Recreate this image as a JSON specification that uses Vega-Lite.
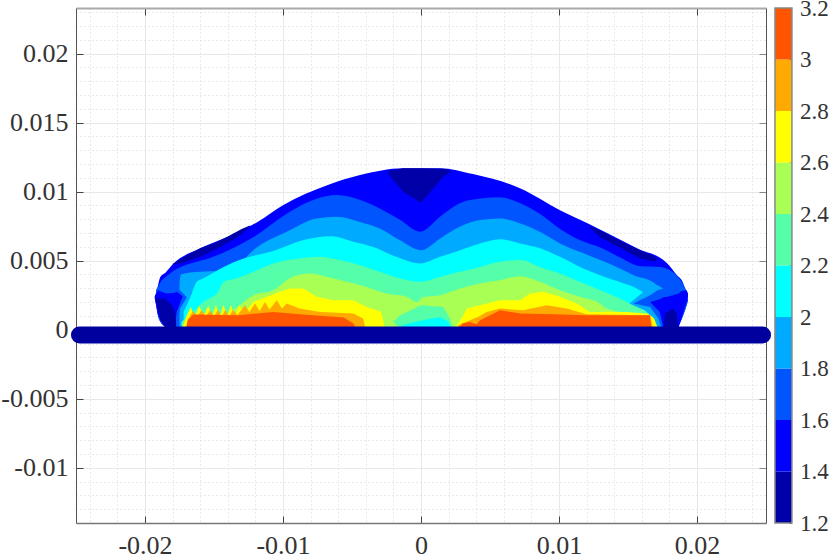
{"$schema":"https://vega.github.io/schema/vega-lite/v6.json","background":"white","padding":{"left":0,"top":-3,"right":0,"bottom":8},"width":690,"height":515,"config":{"view":{"stroke":null},"axis":{"title":null}},"datasets":{"cb":[{"a0":0.02565,"a1":0.02688,"lo":1.2,"hi":1.4,"l":"1.2"},{"a0":0.02565,"a1":0.02688,"lo":1.4,"hi":1.6,"l":"1.4"},{"a0":0.02565,"a1":0.02688,"lo":1.6,"hi":1.8,"l":"1.6"},{"a0":0.02565,"a1":0.02688,"lo":1.8,"hi":2.0,"l":"1.8"},{"a0":0.02565,"a1":0.02688,"lo":2.0,"hi":2.2,"l":"2.0"},{"a0":0.02565,"a1":0.02688,"lo":2.2,"hi":2.4,"l":"2.2"},{"a0":0.02565,"a1":0.02688,"lo":2.4,"hi":2.6,"l":"2.4"},{"a0":0.02565,"a1":0.02688,"lo":2.6,"hi":2.8,"l":"2.6"},{"a0":0.02565,"a1":0.02688,"lo":2.8,"hi":3.0,"l":"2.8"},{"a0":0.02565,"a1":0.02688,"lo":3.0,"hi":3.2,"l":"3.0"}],
"frame":[{"a0":0.02565,"a1":0.02688,"lo":1.2,"hi":3.2}],
"bar":[{"x":-0.02475,"y":-0.00038},{"x":0.02475,"y":-0.00038}],
"base":[
{"r":"a","l":"1.4","x":-0.01928,"y":0.00236,"b":0.00236},{"r":"a","l":"1.4","x":-0.01906,"y":0.0032,"b":0.00105},{"r":"a","l":"1.4","x":-0.0189,"y":0.0038,"b":0.0006},{"r":"a","l":"1.4","x":-0.0185,"y":0.00415,"b":0.0002},{"r":"a","l":"1.4","x":-0.01797,"y":0.00475,"b":0},{"r":"a","l":"1.4","x":-0.016,"y":0.0059,"b":0},{"r":"a","l":"1.4","x":-0.01457,"y":0.00649,"b":0},{"r":"a","l":"1.4","x":-0.01188,"y":0.00779,"b":0},{"r":"a","l":"1.4","x":-0.01,"y":0.00902,"b":0},{"r":"a","l":"1.4","x":-0.0068,"y":0.01047,"b":0},{"r":"a","l":"1.4","x":-0.00442,"y":0.0112,"b":0},{"r":"a","l":"1.4","x":-0.0013,"y":0.0117,"b":0},{"r":"a","l":"1.4","x":0.00138,"y":0.0117,"b":0},{"r":"a","l":"1.4","x":0.00377,"y":0.01127,"b":0},{"r":"a","l":"1.4","x":0.00717,"y":0.01025,"b":0},{"r":"a","l":"1.4","x":0.01007,"y":0.00866,"b":0},{"r":"a","l":"1.4","x":0.01203,"y":0.00772,"b":0},{"r":"a","l":"1.4","x":0.01565,"y":0.0059,"b":0},{"r":"a","l":"1.4","x":0.01783,"y":0.00482,"b":0},{"r":"a","l":"1.4","x":0.0185,"y":0.004,"b":0.0001},{"r":"a","l":"1.4","x":0.019,"y":0.00337,"b":0.00105},{"r":"a","l":"1.4","x":0.01935,"y":0.00214,"b":0.00214},
{"r":"b","l":"1.6","x":-0.0192,"y":0.0029,"b":0.0028},{"r":"b","l":"1.6","x":-0.01906,"y":0.0031,"b":0.00105},{"r":"b","l":"1.6","x":-0.0189,"y":0.0034,"b":0.0006},{"r":"b","l":"1.6","x":-0.0184,"y":0.0039,"b":0.0002},{"r":"b","l":"1.6","x":-0.01795,"y":0.00425,"b":0},{"r":"b","l":"1.6","x":-0.017,"y":0.0047,"b":0},{"r":"b","l":"1.6","x":-0.016,"y":0.005,"b":0},{"r":"b","l":"1.6","x":-0.0153,"y":0.0052,"b":0},{"r":"b","l":"1.6","x":-0.0145,"y":0.0055,"b":0},{"r":"b","l":"1.6","x":-0.0121,"y":0.00673,"b":0},{"r":"b","l":"1.6","x":-0.0097,"y":0.00842,"b":0},{"r":"b","l":"1.6","x":-0.0075,"y":0.0095,"b":0},{"r":"b","l":"1.6","x":-0.0061,"y":0.00975,"b":0},{"r":"b","l":"1.6","x":-0.0044,"y":0.00939,"b":0},{"r":"b","l":"1.6","x":-0.003,"y":0.00878,"b":0},{"r":"b","l":"1.6","x":-0.0015,"y":0.00794,"b":0},{"r":"b","l":"1.6","x":-0.00007,"y":0.0071,"b":0},{"r":"b","l":"1.6","x":0.0014,"y":0.0082,"b":0},{"r":"b","l":"1.6","x":0.0028,"y":0.00915,"b":0},{"r":"b","l":"1.6","x":0.0043,"y":0.0095,"b":0},{"r":"b","l":"1.6","x":0.0057,"y":0.0096,"b":0},{"r":"b","l":"1.6","x":0.0072,"y":0.00915,"b":0},{"r":"b","l":"1.6","x":0.0086,"y":0.0084,"b":0},{"r":"b","l":"1.6","x":0.01007,"y":0.0073,"b":0},{"r":"b","l":"1.6","x":0.0115,"y":0.0065,"b":0},{"r":"b","l":"1.6","x":0.013,"y":0.00595,"b":0},{"r":"b","l":"1.6","x":0.0144,"y":0.00525,"b":0},{"r":"b","l":"1.6","x":0.0159,"y":0.0046,"b":0},{"r":"b","l":"1.6","x":0.0173,"y":0.00455,"b":0},{"r":"b","l":"1.6","x":0.01805,"y":0.0043,"b":0},{"r":"b","l":"1.6","x":0.0186,"y":0.00385,"b":0.00025},{"r":"b","l":"1.6","x":0.019,"y":0.0033,"b":0.00105},{"r":"b","l":"1.6","x":0.0193,"y":0.0027,"b":0.0019},
{"r":"c","l":"1.8","x":-0.0175,"y":0.0032,"b":0},{"r":"c","l":"1.8","x":-0.0174,"y":0.004,"b":0},{"r":"c","l":"1.8","x":-0.016,"y":0.0042,"b":0},{"r":"c","l":"1.8","x":-0.0146,"y":0.00425,"b":0},{"r":"c","l":"1.8","x":-0.01384,"y":0.00445,"b":0},{"r":"c","l":"1.8","x":-0.0131,"y":0.00485,"b":0},{"r":"c","l":"1.8","x":-0.01215,"y":0.00576,"b":0},{"r":"c","l":"1.8","x":-0.00974,"y":0.00709,"b":0},{"r":"c","l":"1.8","x":-0.00756,"y":0.00806,"b":0},{"r":"c","l":"1.8","x":-0.0061,"y":0.00818,"b":0},{"r":"c","l":"1.8","x":-0.00444,"y":0.0078,"b":0},{"r":"c","l":"1.8","x":-0.003,"y":0.00733,"b":0},{"r":"c","l":"1.8","x":-0.00155,"y":0.00649,"b":0},{"r":"c","l":"1.8","x":0,"y":0.00576,"b":0},{"r":"c","l":"1.8","x":0.0014,"y":0.00661,"b":0},{"r":"c","l":"1.8","x":0.0028,"y":0.00745,"b":0},{"r":"c","l":"1.8","x":0.0043,"y":0.00794,"b":0},{"r":"c","l":"1.8","x":0.0057,"y":0.00806,"b":0},{"r":"c","l":"1.8","x":0.0072,"y":0.0077,"b":0},{"r":"c","l":"1.8","x":0.0086,"y":0.00709,"b":0},{"r":"c","l":"1.8","x":0.01007,"y":0.00625,"b":0},{"r":"c","l":"1.8","x":0.0115,"y":0.00564,"b":0},{"r":"c","l":"1.8","x":0.013,"y":0.00504,"b":0},{"r":"c","l":"1.8","x":0.0144,"y":0.00443,"b":0},{"r":"c","l":"1.8","x":0.0154,"y":0.00395,"b":0},{"r":"c","l":"1.8","x":0.0168,"y":0.00345,"b":0},{"r":"c","l":"1.8","x":0.0175,"y":0.00286,"b":0},
{"r":"d","l":"2.0","x":-0.0172,"y":0.0013,"b":0},{"r":"d","l":"2.0","x":-0.0167,"y":0.00238,"b":0},{"r":"d","l":"2.0","x":-0.01625,"y":0.00347,"b":0},{"r":"d","l":"2.0","x":-0.0158,"y":0.0037,"b":0},{"r":"d","l":"2.0","x":-0.0143,"y":0.00455,"b":0},{"r":"d","l":"2.0","x":-0.01285,"y":0.00515,"b":0},{"r":"d","l":"2.0","x":-0.0107,"y":0.0057,"b":0},{"r":"d","l":"2.0","x":-0.0085,"y":0.00649,"b":0},{"r":"d","l":"2.0","x":-0.0065,"y":0.00677,"b":0},{"r":"d","l":"2.0","x":-0.0049,"y":0.00637,"b":0},{"r":"d","l":"2.0","x":-0.0035,"y":0.006,"b":0},{"r":"d","l":"2.0","x":-0.0018,"y":0.00528,"b":0},{"r":"d","l":"2.0","x":-0.00007,"y":0.0048,"b":0},{"r":"d","l":"2.0","x":0.00138,"y":0.00528,"b":0},{"r":"d","l":"2.0","x":0.00283,"y":0.00576,"b":0},{"r":"d","l":"2.0","x":0.00428,"y":0.00625,"b":0},{"r":"d","l":"2.0","x":0.00572,"y":0.00656,"b":0},{"r":"d","l":"2.0","x":0.00717,"y":0.00625,"b":0},{"r":"d","l":"2.0","x":0.00862,"y":0.0059,"b":0},{"r":"d","l":"2.0","x":0.01007,"y":0.00528,"b":0},{"r":"d","l":"2.0","x":0.01152,"y":0.00455,"b":0},{"r":"d","l":"2.0","x":0.01297,"y":0.00395,"b":0},{"r":"d","l":"2.0","x":0.0144,"y":0.00345,"b":0},{"r":"d","l":"2.0","x":0.0156,"y":0.003,"b":0},{"r":"d","l":"2.0","x":0.0162,"y":0.0026,"b":0},{"r":"d","l":"2.0","x":0.017,"y":0.0015,"b":0},{"r":"d","l":"2.0","x":0.0172,"y":0,"b":0},
{"r":"e","l":"2.2","x":-0.01735,"y":0.00057,"b":0},{"r":"e","l":"2.2","x":-0.0165,"y":0.00129,"b":0},{"r":"e","l":"2.2","x":-0.01577,"y":0.002,"b":0},{"r":"e","l":"2.2","x":-0.0147,"y":0.00274,"b":0},{"r":"e","l":"2.2","x":-0.0143,"y":0.00347,"b":0},{"r":"e","l":"2.2","x":-0.0134,"y":0.00371,"b":0},{"r":"e","l":"2.2","x":-0.01215,"y":0.0042,"b":0},{"r":"e","l":"2.2","x":-0.0107,"y":0.0048,"b":0},{"r":"e","l":"2.2","x":-0.0088,"y":0.00516,"b":0},{"r":"e","l":"2.2","x":-0.0073,"y":0.00528,"b":0},{"r":"e","l":"2.2","x":-0.0059,"y":0.00504,"b":0},{"r":"e","l":"2.2","x":-0.0044,"y":0.00467,"b":0},{"r":"e","l":"2.2","x":-0.003,"y":0.0042,"b":0},{"r":"e","l":"2.2","x":-0.0015,"y":0.00371,"b":0},{"r":"e","l":"2.2","x":-0.00007,"y":0.00347,"b":0},{"r":"e","l":"2.2","x":0.0014,"y":0.00383,"b":0},{"r":"e","l":"2.2","x":0.0028,"y":0.0042,"b":0},{"r":"e","l":"2.2","x":0.0043,"y":0.00455,"b":0},{"r":"e","l":"2.2","x":0.0057,"y":0.00492,"b":0},{"r":"e","l":"2.2","x":0.0072,"y":0.00504,"b":0},{"r":"e","l":"2.2","x":0.0086,"y":0.00455,"b":0},{"r":"e","l":"2.2","x":0.01007,"y":0.00407,"b":0},{"r":"e","l":"2.2","x":0.0115,"y":0.00347,"b":0},{"r":"e","l":"2.2","x":0.013,"y":0.00286,"b":0},{"r":"e","l":"2.2","x":0.0144,"y":0.00226,"b":0},{"r":"e","l":"2.2","x":0.0154,"y":0.00177,"b":0},{"r":"e","l":"2.2","x":0.0166,"y":0.00117,"b":0},{"r":"e","l":"2.2","x":0.017,"y":0,"b":0},
{"r":"f","l":"2.4","x":-0.0148,"y":0.00069,"b":0},{"r":"f","l":"2.4","x":-0.01384,"y":0.00129,"b":0},{"r":"f","l":"2.4","x":-0.01312,"y":0.00178,"b":0},{"r":"f","l":"2.4","x":-0.01215,"y":0.0025,"b":0},{"r":"f","l":"2.4","x":-0.0107,"y":0.00286,"b":0},{"r":"f","l":"2.4","x":-0.00974,"y":0.00359,"b":0},{"r":"f","l":"2.4","x":-0.009,"y":0.00395,"b":0},{"r":"f","l":"2.4","x":-0.00804,"y":0.00407,"b":0},{"r":"f","l":"2.4","x":-0.00684,"y":0.00383,"b":0},{"r":"f","l":"2.4","x":-0.00539,"y":0.00347,"b":0},{"r":"f","l":"2.4","x":-0.00394,"y":0.0031,"b":0},{"r":"f","l":"2.4","x":-0.0025,"y":0.00262,"b":0},{"r":"f","l":"2.4","x":-0.00104,"y":0.00238,"b":0},{"r":"f","l":"2.4","x":-0.0003,"y":0.002,"b":0},{"r":"f","l":"2.4","x":0.00015,"y":0.00235,"b":0},{"r":"f","l":"2.4","x":0.00138,"y":0.0025,"b":0},{"r":"f","l":"2.4","x":0.00283,"y":0.00298,"b":0},{"r":"f","l":"2.4","x":0.00428,"y":0.00335,"b":0},{"r":"f","l":"2.4","x":0.00572,"y":0.00359,"b":0},{"r":"f","l":"2.4","x":0.00717,"y":0.00388,"b":0},{"r":"f","l":"2.4","x":0.00862,"y":0.00347,"b":0},{"r":"f","l":"2.4","x":0.01007,"y":0.00286,"b":0},{"r":"f","l":"2.4","x":0.01152,"y":0.00238,"b":0},{"r":"f","l":"2.4","x":0.01297,"y":0.0019,"b":0},{"r":"f","l":"2.4","x":0.01345,"y":0.00153,"b":0},{"r":"f","l":"2.4","x":0.01587,"y":0.00105,"b":0},{"r":"f","l":"2.4","x":0.01684,"y":0.0008,"b":0},{"r":"f","l":"2.4","x":0.017,"y":0,"b":0}
],
"patch":[
{"r":"g","l":"2.2","x":-0.002,"y":0.0006,"b":0.0006},{"r":"g","l":"2.2","x":-0.0015,"y":0.00105,"b":0},{"r":"g","l":"2.2","x":0,"y":0.00177,"b":0},{"r":"g","l":"2.2","x":0.00162,"y":0.00165,"b":0},{"r":"g","l":"2.2","x":0.0021,"y":0.0008,"b":0},{"r":"g","l":"2.2","x":0.00235,"y":0,"b":0},
{"r":"h","l":"2.0","x":-0.0014,"y":0.0003,"b":0},{"r":"h","l":"2.0","x":-0.0007,"y":0.0005,"b":0},{"r":"h","l":"2.0","x":0.00065,"y":0.0008,"b":0},{"r":"h","l":"2.0","x":0.00138,"y":0.0009,"b":0},{"r":"h","l":"2.0","x":0.00198,"y":0.0006,"b":0},{"r":"h","l":"2.0","x":0.0022,"y":0,"b":0},
{"r":"i","l":"2.6","x":-0.01735,"y":0,"b":0},{"r":"i","l":"2.6","x":-0.01698,"y":0.00105,"b":0},{"r":"i","l":"2.6","x":-0.01669,"y":0.00165,"b":0},{"r":"i","l":"2.6","x":-0.01638,"y":0.00095,"b":0},{"r":"i","l":"2.6","x":-0.01607,"y":0.00175,"b":0},{"r":"i","l":"2.6","x":-0.01578,"y":0.00095,"b":0},{"r":"i","l":"2.6","x":-0.01541,"y":0.00175,"b":0},{"r":"i","l":"2.6","x":-0.01514,"y":0.00095,"b":0},{"r":"i","l":"2.6","x":-0.01486,"y":0.0018,"b":0},{"r":"i","l":"2.6","x":-0.01457,"y":0.00095,"b":0},{"r":"i","l":"2.6","x":-0.01432,"y":0.0018,"b":0},{"r":"i","l":"2.6","x":-0.01403,"y":0.00095,"b":0},{"r":"i","l":"2.6","x":-0.01379,"y":0.0018,"b":0},{"r":"i","l":"2.6","x":-0.01348,"y":0.00095,"b":0},{"r":"i","l":"2.6","x":-0.01317,"y":0.0018,"b":0},{"r":"i","l":"2.6","x":-0.01283,"y":0.0012,"b":0},{"r":"i","l":"2.6","x":-0.01215,"y":0.002,"b":0},{"r":"i","l":"2.6","x":-0.01118,"y":0.00238,"b":0},{"r":"i","l":"2.6","x":-0.0102,"y":0.00274,"b":0},{"r":"i","l":"2.6","x":-0.0095,"y":0.00298,"b":0},{"r":"i","l":"2.6","x":-0.00853,"y":0.00298,"b":0},{"r":"i","l":"2.6","x":-0.00756,"y":0.00238,"b":0},{"r":"i","l":"2.6","x":-0.00635,"y":0.00214,"b":0},{"r":"i","l":"2.6","x":-0.0049,"y":0.00214,"b":0},{"r":"i","l":"2.6","x":-0.00394,"y":0.00165,"b":0},{"r":"i","l":"2.6","x":-0.0032,"y":0.0014,"b":0},{"r":"i","l":"2.6","x":-0.0029,"y":0.0013,"b":0},{"r":"i","l":"2.6","x":-0.0027,"y":0.0005,"b":0},{"r":"i","l":"2.6","x":-0.0026,"y":0,"b":0},
{"r":"j","l":"2.6","x":0.0025,"y":0,"b":0},{"r":"j","l":"2.6","x":0.00258,"y":0.00033,"b":0},{"r":"j","l":"2.6","x":0.00307,"y":0.00105,"b":0},{"r":"j","l":"2.6","x":0.00331,"y":0.00153,"b":0},{"r":"j","l":"2.6","x":0.00428,"y":0.00177,"b":0},{"r":"j","l":"2.6","x":0.00572,"y":0.00214,"b":0},{"r":"j","l":"2.6","x":0.00717,"y":0.00214,"b":0},{"r":"j","l":"2.6","x":0.0079,"y":0.00262,"b":0},{"r":"j","l":"2.6","x":0.00886,"y":0.00274,"b":0},{"r":"j","l":"2.6","x":0.01007,"y":0.00238,"b":0},{"r":"j","l":"2.6","x":0.01128,"y":0.0019,"b":0},{"r":"j","l":"2.6","x":0.01225,"y":0.00129,"b":0},{"r":"j","l":"2.6","x":0.01345,"y":0.00129,"b":0},{"r":"j","l":"2.6","x":0.0149,"y":0.00129,"b":0},{"r":"j","l":"2.6","x":0.01635,"y":0.00117,"b":0},{"r":"j","l":"2.6","x":0.01708,"y":0.00081,"b":0},{"r":"j","l":"2.6","x":0.0172,"y":0,"b":0},
{"r":"k","l":"2.8","x":-0.017,"y":0,"b":0},{"r":"k","l":"2.8","x":-0.0169,"y":0.0007,"b":0},{"r":"k","l":"2.8","x":-0.01653,"y":0.00135,"b":0},{"r":"k","l":"2.8","x":-0.01622,"y":0.00095,"b":0},{"r":"k","l":"2.8","x":-0.01592,"y":0.0014,"b":0},{"r":"k","l":"2.8","x":-0.0156,"y":0.00095,"b":0},{"r":"k","l":"2.8","x":-0.01528,"y":0.0014,"b":0},{"r":"k","l":"2.8","x":-0.015,"y":0.00095,"b":0},{"r":"k","l":"2.8","x":-0.01472,"y":0.00145,"b":0},{"r":"k","l":"2.8","x":-0.01445,"y":0.00095,"b":0},{"r":"k","l":"2.8","x":-0.01418,"y":0.00145,"b":0},{"r":"k","l":"2.8","x":-0.0139,"y":0.00095,"b":0},{"r":"k","l":"2.8","x":-0.01362,"y":0.00145,"b":0},{"r":"k","l":"2.8","x":-0.0133,"y":0.00105,"b":0},{"r":"k","l":"2.8","x":-0.01276,"y":0.00178,"b":0},{"r":"k","l":"2.8","x":-0.01244,"y":0.00129,"b":0},{"r":"k","l":"2.8","x":-0.01202,"y":0.0019,"b":0},{"r":"k","l":"2.8","x":-0.0117,"y":0.00136,"b":0},{"r":"k","l":"2.8","x":-0.0113,"y":0.002,"b":0},{"r":"k","l":"2.8","x":-0.01098,"y":0.00146,"b":0},{"r":"k","l":"2.8","x":-0.01045,"y":0.00214,"b":0},{"r":"k","l":"2.8","x":-0.01008,"y":0.00153,"b":0},{"r":"k","l":"2.8","x":-0.00974,"y":0.0019,"b":0},{"r":"k","l":"2.8","x":-0.0088,"y":0.00153,"b":0},{"r":"k","l":"2.8","x":-0.0073,"y":0.00129,"b":0},{"r":"k","l":"2.8","x":-0.0049,"y":0.00117,"b":0},{"r":"k","l":"2.8","x":-0.0042,"y":0.00081,"b":0},{"r":"k","l":"2.8","x":-0.004,"y":0,"b":0},
{"r":"m","l":"2.8","x":0.0026,"y":0,"b":0},{"r":"m","l":"2.8","x":0.0027,"y":0.00033,"b":0},{"r":"m","l":"2.8","x":0.00355,"y":0.00069,"b":0},{"r":"m","l":"2.8","x":0.00415,"y":0.00093,"b":0},{"r":"m","l":"2.8","x":0.00476,"y":0.00129,"b":0},{"r":"m","l":"2.8","x":0.00572,"y":0.00153,"b":0},{"r":"m","l":"2.8","x":0.00741,"y":0.00141,"b":0},{"r":"m","l":"2.8","x":0.0091,"y":0.00177,"b":0},{"r":"m","l":"2.8","x":0.01055,"y":0.00153,"b":0},{"r":"m","l":"2.8","x":0.012,"y":0.00112,"b":0},{"r":"m","l":"2.8","x":0.0166,"y":0.00105,"b":0},{"r":"m","l":"2.8","x":0.01684,"y":0,"b":0},
{"r":"n","l":"3.0","x":-0.01705,"y":0,"b":0},{"r":"n","l":"3.0","x":-0.0169,"y":0.0007,"b":0},{"r":"n","l":"3.0","x":-0.0165,"y":0.0011,"b":0},{"r":"n","l":"3.0","x":-0.0132,"y":0.00105,"b":0},{"r":"n","l":"3.0","x":-0.0107,"y":0.00129,"b":0},{"r":"n","l":"3.0","x":-0.0088,"y":0.00112,"b":0},{"r":"n","l":"3.0","x":-0.0056,"y":0.00088,"b":0},{"r":"n","l":"3.0","x":-0.0049,"y":0.00045,"b":0},{"r":"n","l":"3.0","x":-0.00466,"y":0,"b":0},
{"r":"o","l":"3.0","x":0.00275,"y":0,"b":0},{"r":"o","l":"3.0","x":0.003,"y":0.00045,"b":0},{"r":"o","l":"3.0","x":0.0035,"y":0.00055,"b":0},{"r":"o","l":"3.0","x":0.00403,"y":0.0004,"b":0},{"r":"o","l":"3.0","x":0.00428,"y":0.00069,"b":0},{"r":"o","l":"3.0","x":0.00572,"y":0.00141,"b":0},{"r":"o","l":"3.0","x":0.00717,"y":0.00117,"b":0},{"r":"o","l":"3.0","x":0.0096,"y":0.00112,"b":0},{"r":"o","l":"3.0","x":0.012,"y":0.00105,"b":0},{"r":"o","l":"3.0","x":0.0166,"y":0.00105,"b":0},{"r":"o","l":"3.0","x":0.0167,"y":0,"b":0},
{"r":"p","l":"1.8","x":0.0151,"y":0.0019,"b":0.0019},{"r":"p","l":"1.8","x":0.0162,"y":0.0028,"b":0.00141},{"r":"p","l":"1.8","x":0.0169,"y":0.0032,"b":0.00081},{"r":"p","l":"1.8","x":0.0172,"y":0.0032,"b":0},{"r":"p","l":"1.8","x":0.0175,"y":0.003,"b":0},
{"r":"q","l":"1.6","x":0.0154,"y":0.0019,"b":0.0019},{"r":"q","l":"1.6","x":0.0166,"y":0.0025,"b":0.00165},{"r":"q","l":"1.6","x":0.0172,"y":0.0029,"b":0.00081},{"r":"q","l":"1.6","x":0.01745,"y":0.00295,"b":0},{"r":"q","l":"1.6","x":0.018,"y":0.00295,"b":0},
{"r":"s","l":"1.4","x":0.0166,"y":0.002,"b":0.002},{"r":"s","l":"1.4","x":0.0173,"y":0.0022,"b":0.00129},{"r":"s","l":"1.4","x":0.0176,"y":0.00237,"b":0},{"r":"s","l":"1.4","x":0.0178,"y":0.00237,"b":0},{"r":"s","l":"1.4","x":0.01865,"y":0.0026,"b":0.0001},{"r":"s","l":"1.4","x":0.0189,"y":0.0028,"b":0.0009},{"r":"s","l":"1.4","x":0.01925,"y":0.00286,"b":0.002},{"r":"s","l":"1.4","x":0.01935,"y":0.0026,"b":0.0024},
{"r":"t","l":"1.2","x":0.0176,"y":0.0005,"b":0},{"r":"t","l":"1.2","x":0.0177,"y":0.00117,"b":0},{"r":"t","l":"1.2","x":0.0182,"y":0.00153,"b":0},{"r":"t","l":"1.2","x":0.0185,"y":0.00129,"b":0},{"r":"t","l":"1.2","x":0.01865,"y":0.0002,"b":0},
{"r":"u","l":"1.6","x":-0.01697,"y":0.00233,"b":0.00233},{"r":"u","l":"1.6","x":-0.01746,"y":0.00286,"b":0.00153},{"r":"u","l":"1.6","x":-0.01765,"y":0.0029,"b":0.00069},{"r":"u","l":"1.6","x":-0.01775,"y":0.0029,"b":0},
{"r":"v","l":"1.4","x":-0.01727,"y":0.00243,"b":0.00243},{"r":"v","l":"1.4","x":-0.0177,"y":0.00274,"b":0.00129},{"r":"v","l":"1.4","x":-0.01788,"y":0.00265,"b":0},{"r":"v","l":"1.4","x":-0.01848,"y":0.00262,"b":0.0001},{"r":"v","l":"1.4","x":-0.01906,"y":0.00286,"b":0.00105},{"r":"v","l":"1.4","x":-0.0193,"y":0.0024,"b":0.0023},
{"r":"w","l":"1.2","x":-0.01923,"y":0.0023,"b":0.0023},{"r":"w","l":"1.2","x":-0.0189,"y":0.00226,"b":0.00069},{"r":"w","l":"1.2","x":-0.01855,"y":0.00226,"b":0.0002},{"r":"w","l":"1.2","x":-0.01806,"y":0.00177,"b":0},{"r":"w","l":"1.2","x":-0.01782,"y":0.00129,"b":0},{"r":"w","l":"1.2","x":-0.01775,"y":0.0005,"b":0},
{"r":"x","l":"1.2","x":-0.0024,"y":0.0115,"b":0.0113},{"r":"x","l":"1.2","x":-0.0013,"y":0.0117,"b":0.01},{"r":"x","l":"1.2","x":0,"y":0.0117,"b":0.0092},{"r":"x","l":"1.2","x":0.00162,"y":0.01165,"b":0.01107},{"r":"x","l":"1.2","x":0.00222,"y":0.0115,"b":0.0115},
{"r":"y","l":"1.2","x":-0.018,"y":0.00475,"b":0.0047},{"r":"y","l":"1.2","x":-0.0172,"y":0.00525,"b":0.00485},{"r":"y","l":"1.2","x":-0.016,"y":0.0059,"b":0.0053},{"r":"y","l":"1.2","x":-0.015,"y":0.00625,"b":0.00575},{"r":"y","l":"1.2","x":-0.014,"y":0.00675,"b":0.0063},{"r":"y","l":"1.2","x":-0.013,"y":0.0073,"b":0.0069},{"r":"y","l":"1.2","x":-0.0124,"y":0.00755,"b":0.00745},
{"r":"z","l":"1.2","x":0.01224,"y":0.0075,"b":0.0074},{"r":"z","l":"1.2","x":0.01297,"y":0.0072,"b":0.0067},{"r":"z","l":"1.2","x":0.0144,"y":0.00645,"b":0.00595},{"r":"z","l":"1.2","x":0.01587,"y":0.00575,"b":0.00516},{"r":"z","l":"1.2","x":0.01684,"y":0.00535,"b":0.00495},{"r":"z","l":"1.2","x":0.0171,"y":0.0051,"b":0.005}
]},
"resolve":{"scale":{"y":"independent"},"axis":{"x":"independent","y":"independent"}},
"layer":[
{"data":{"name":"base"},"mark":{"type":"area","interpolate":"monotone"},"encoding":{
"x":{"field":"x","type":"quantitative","scale":{"domain":[-0.025,0.025],"nice":false,"zero":false},"axis":{"orient":"bottom","values":[-0.02,-0.01,0,0.01,0.02],"labelExpr":"''+datum.value","labelFont":"Liberation Serif","labelFontSize":26,"labelColor":"#333333","grid":true,"gridColor":"#e8e8e8","gridWidth":1,"domainColor":"#777777","domainWidth":1.5,"tickSize":-7,"tickColor":"#444444","labelPadding":16,"labelFlush":false,"labelOverlap":false}},
"y":{"field":"y","type":"quantitative","scale":{"domain":[-0.014,0.0233],"nice":false,"zero":false},"axis":{"orient":"left","values":[-0.01,-0.005,0,0.005,0.01,0.015,0.02],"labelExpr":"''+datum.value","labelFont":"Liberation Serif","labelFontSize":26,"labelColor":"#333333","grid":true,"gridColor":"#e8e8e8","gridWidth":1,"domainColor":"#555555","domainWidth":1,"tickSize":-7,"tickColor":"#444444","labelPadding":15,"labelFlush":false,"labelOverlap":false}},
"y2":{"field":"b"},
"detail":{"field":"r"},
"color":{"field":"l","type":"nominal","legend":null,"scale":{"domain":["1.2","1.4","1.6","1.8","2.0","2.2","2.4","2.6","2.8","3.0"],"range":["#0000A8","#0000FF","#0055FF","#00AAFF","#00FFFF","#55FFAA","#AAFF55","#FFFF00","#FFAA00","#FF5500"]}}}},
{"data":{"name":"patch"},"mark":{"type":"area","interpolate":"linear"},"encoding":{
"x":{"field":"x","type":"quantitative","axis":{"orient":"bottom","values":[-0.024,-0.022,-0.018,-0.016,-0.014,-0.012,-0.008,-0.006,-0.004,-0.002,0.002,0.004,0.006,0.008,0.012,0.014,0.016,0.018,0.022,0.024],"labels":false,"ticks":false,"domain":false,"grid":true,"gridColor":"#d4d4d4","gridDash":[1,3],"gridWidth":1}},
"y":{"field":"y","type":"quantitative","scale":{"domain":[-0.014,0.0233],"nice":false,"zero":false},"axis":{"orient":"left","minExtent":0,"values":[-0.013,-0.012,-0.011,-0.009,-0.008,-0.007,-0.006,-0.004,-0.003,-0.002,-0.001,0.001,0.002,0.003,0.004,0.006,0.007,0.008,0.009,0.011,0.012,0.013,0.014,0.016,0.017,0.018,0.019,0.021,0.022,0.023],"labels":false,"ticks":false,"domain":false,"grid":true,"gridColor":"#d4d4d4","gridDash":[1,3],"gridWidth":1}},
"y2":{"field":"b"},
"detail":{"field":"r"},
"color":{"field":"l","type":"nominal","legend":null}}},
{"data":{"name":"bar"},"mark":{"type":"line","strokeWidth":17,"strokeCap":"round","color":"#00009F","clip":false},"encoding":{
"x":{"field":"x","type":"quantitative","axis":{"orient":"top","values":[-0.02,-0.01,0,0.01,0.02],"labels":false,"grid":false,"domainColor":"#aaaaaa","domainWidth":2,"tickSize":-7,"tickColor":"#444444"}},
"y":{"field":"y","type":"quantitative","scale":{"domain":[-0.014,0.0233],"nice":false,"zero":false},"axis":{"orient":"right","minExtent":0,"values":[-0.01,-0.005,0,0.005,0.01,0.015,0.02],"labels":false,"grid":false,"domainColor":"#555555","domainWidth":1,"tickSize":-7,"tickColor":"#888888"}}}},
{"data":{"name":"cb"},"mark":{"type":"rect","clip":false},"encoding":{
"x":{"field":"a0","type":"quantitative","axis":null},
"x2":{"field":"a1"},
"y":{"field":"lo","type":"quantitative","scale":{"domain":[1.2,3.2],"nice":false,"zero":false},"axis":{"orient":"right","offset":25.5,"minExtent":0,"values":[1.2,1.4,1.6,1.8,2,2.2,2.4,2.6,2.8,3,3.2],"labelExpr":"''+datum.value","labelFont":"Liberation Serif","labelFontSize":23,"labelColor":"#333333","grid":false,"domain":false,"tickSize":-3,"tickColor":"#666666","labelPadding":11,"labelFlush":false,"labelOverlap":false}},
"y2":{"field":"hi"},
"color":{"field":"l","type":"nominal","legend":null}}},
{"data":{"name":"frame"},"mark":{"type":"rect","clip":false,"fillOpacity":0,"stroke":"#888888","strokeWidth":1.5},"encoding":{
"x":{"field":"a0","type":"quantitative","axis":null},
"x2":{"field":"a1"},
"y":{"field":"lo","type":"quantitative","scale":{"domain":[1.2,3.2],"nice":false,"zero":false},"axis":null},
"y2":{"field":"hi"}}}
]}
